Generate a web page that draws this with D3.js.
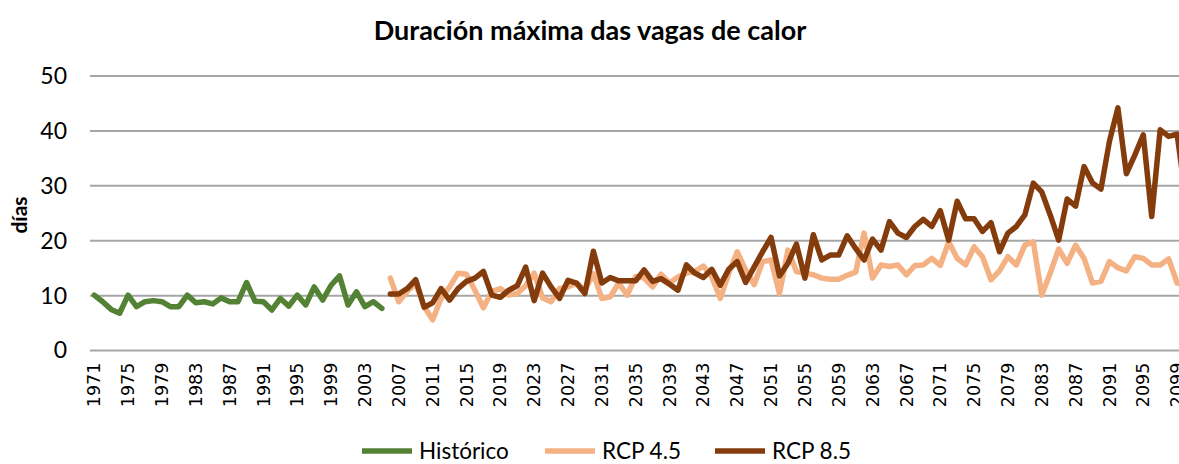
<!DOCTYPE html>
<html>
<head>
<meta charset="utf-8">
<script src="https://cdn.jsdelivr.net/npm/d3@7"></script>
<style>
  body { margin: 0; background: #fff; }
  svg { display: block; }
</style>
</head>
<body>
<div id="chart"></div>
<script>
// years on the category axis
var histYears = d3.range(1971, 2006);
var rcpYears = d3.range(2006, 2101);
var allYears = d3.range(1971, 2101);

// series values (días)
var historico = [10.1, 8.9, 7.5, 6.8, 10.1, 8.0, 8.9, 9.1, 8.9, 8.0,
  8.0, 10.1, 8.7, 8.9, 8.5, 9.6, 8.9, 8.9, 12.4, 9.0,
  8.9, 7.4, 9.5, 8.1, 10.1, 8.3, 11.6, 9.2, 11.9, 13.6,
  8.3, 10.7, 8.0, 8.9, 7.7];

var rcp45 = [13.2, 8.9, 10.8, 12.2, 8.0, 5.6, 9.5, 11.6, 14.1, 13.9,
  11.0, 7.8, 10.8, 11.3, 10.1, 10.4, 11.8, 14.1, 9.6, 8.9,
  11.3, 11.6, 12.3, 11.0, 14.0, 9.5, 9.8, 12.3, 10.1, 13.5,
  13.2, 11.6, 13.9, 12.3, 13.4, 14.1, 14.4, 15.4, 13.4, 9.5,
  14.0, 18.0, 14.7, 12.0, 16.2, 16.5, 10.4, 18.3, 14.4, 14.1,
  13.8, 13.2, 13.0, 13.0, 13.7, 14.3, 21.4, 13.2, 15.6, 15.3,
  15.6, 13.8, 15.5, 15.6, 16.8, 15.5, 19.8, 16.8, 15.6, 18.9,
  17.1, 12.9, 14.5, 17.1, 15.6, 19.2, 19.8, 10.1, 14.1, 18.5,
  15.9, 19.2, 16.8, 12.3, 12.6, 16.2, 15.1, 14.5, 17.1, 16.8,
  15.6, 15.6, 16.7, 12.3, 12.0];

var rcp85 = [10.3, 10.3, 11.3, 12.9, 7.9, 8.7, 11.3, 9.2, 11.3, 12.6,
  13.2, 14.4, 10.1, 9.7, 11.0, 11.8, 15.2, 9.1, 14.1, 11.6,
  9.5, 12.8, 12.3, 10.4, 18.1, 12.3, 13.3, 12.7, 12.7, 12.7,
  14.7, 12.6, 13.1, 12.1, 11.0, 15.6, 14.1, 13.3, 14.8, 11.9,
  14.8, 16.2, 12.4, 15.2, 18.0, 20.6, 13.6, 15.9, 19.4, 13.2,
  21.1, 16.5, 17.4, 17.4, 20.9, 18.6, 16.5, 20.3, 18.3, 23.5,
  21.4, 20.6, 22.6, 23.9, 22.6, 25.5, 20.1, 27.2, 24.0, 24.0,
  21.7, 23.3, 18.0, 21.4, 22.6, 24.7, 30.5, 28.9, 24.7, 20.1,
  27.6, 26.3, 33.5, 30.5, 29.4, 38.1, 44.2, 32.2, 35.6, 39.3,
  24.4, 40.2, 39.0, 39.4, 28.0];

var yTicks = [0, 10, 20, 30, 40, 50];
var seriesNames = ["Histórico", "RCP 4.5", "RCP 8.5"];
var seriesColors = ["#548235", "#F4B183", "#843C0C"];

var width = 1179, height = 464;
var plotLeft = 90, plotTop = 76, plotBottom = 350.6;
var band = 8.46;

var svg = d3.select("#chart")
  .append("svg")
    .attr("width", width)
    .attr("height", height);

// scales
var x = d3.scaleBand()
  .domain(allYears)
  .range([plotLeft, plotLeft + band * allYears.length])
  .padding(0);

var y = d3.scaleLinear()
  .domain([0, 50])
  .range([plotBottom, plotTop]);

var cx = function(d) { return x(d) + x.bandwidth() / 2; };

// gridlines
svg.append("g")
  .selectAll("line")
  .data(yTicks)
  .enter()
  .append("line")
    .attr("x1", plotLeft)
    .attr("x2", plotLeft + band * allYears.length)
    .attr("y1", function(d) { return y(d); })
    .attr("y2", function(d) { return y(d); })
    .attr("stroke", "#a6a6a6")
    .attr("stroke-width", 2);

// Y axis
var yAxis = svg.append("g")
  .attr("transform", "translate(" + (plotLeft - 23) + ",0)")
  .call(d3.axisLeft(y).tickValues(yTicks).tickSize(0).tickPadding(0));
yAxis.select(".domain").remove();
yAxis.selectAll("text")
  .style("font-family", "Lato, 'Open Sans', sans-serif")
  .style("font-size", "23px")
  .attr("fill", "#000");

// X axis
var xAxis = svg.append("g")
  .attr("transform", "translate(0," + plotBottom + ")")
  .call(d3.axisBottom(x)
    .tickValues(allYears.filter(function(d) { return (d - 1971) % 4 === 0; }))
    .tickSize(0));
xAxis.select(".domain").remove();
xAxis.selectAll("text")
  .attr("y", 0)
  .attr("x", -12)
  .attr("dy", "0.35em")
  .attr("transform", "rotate(-90)")
  .style("text-anchor", "end")
  .style("font-family", "'DejaVu Sans', sans-serif")
  .style("font-size", "17.5px")
  .attr("fill", "#000");

// lines
var line = d3.line()
  .x(function(d) { return cx(d[0]); })
  .y(function(d) { return y(d[1]); });

var seriesData = [
  d3.zip(histYears, historico),
  d3.zip(rcpYears, rcp45),
  d3.zip(rcpYears, rcp85)
];

svg.append("g")
  .selectAll("path")
  .data(seriesData)
  .enter()
  .append("path")
    .attr("d", line)
    .attr("fill", "none")
    .attr("stroke", function(d, i) { return seriesColors[i]; })
    .attr("stroke-width", 5.5)
    .attr("stroke-linejoin", "round")
    .attr("stroke-linecap", "round");

// title
svg.append("text")
  .attr("x", 590)
  .attr("y", 40)
  .attr("text-anchor", "middle")
  .style("font-family", "Lato, 'Open Sans', sans-serif")
  .style("font-weight", "bold")
  .style("font-size", "27px")
  .text("Duración máxima das vagas de calor");

// y label
svg.append("text")
  .attr("transform", "translate(27,215) rotate(-90)")
  .attr("text-anchor", "middle")
  .style("font-family", "Lato, 'Open Sans', sans-serif")
  .style("font-weight", "bold")
  .style("font-size", "21px")
  .text("días");

// legend
var legendX = [362, 545, 715];
var legend = svg.append("g")
  .selectAll("g")
  .data(seriesNames)
  .enter()
  .append("g")
    .attr("transform", function(d, i) { return "translate(" + legendX[i] + ",451)"; });

legend.append("line")
  .attr("x1", 0)
  .attr("x2", 50)
  .attr("stroke", function(d, i) { return seriesColors[i]; })
  .attr("stroke-width", 5.5);

legend.append("text")
  .attr("x", 57)
  .attr("dy", "0.35em")
  .style("font-family", "Lato, 'Open Sans', sans-serif")
  .style("font-size", "22.5px")
  .text(function(d) { return d; });
</script>
</body>
</html>
